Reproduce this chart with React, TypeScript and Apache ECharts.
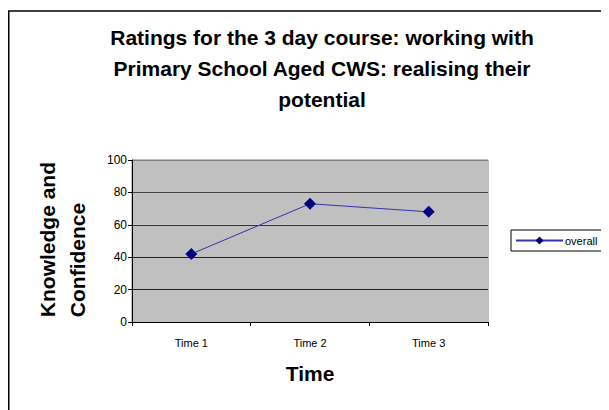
import React, { useEffect, useRef } from "react";
import * as echarts from "echarts";

const categories = ["Time 1", "Time 2", "Time 3"];
const overall = [42, 73, 68];
const seriesName = "overall";
const titleText = "Ratings for the 3 day course: working with\nPrimary School Aged CWS: realising their\npotential";
const yAxisName = "Knowledge and\nConfidence";
const xAxisName = "Time";

export default function App() {
  const ref = useRef<HTMLDivElement>(null);
  useEffect(() => {
    if (!ref.current) return;
    const chart = echarts.init(ref.current, null, { renderer: "svg" });
    const font = "'Liberation Sans', Arial, sans-serif";
    chart.setOption({
      animation: false,
      backgroundColor: "#ffffff",
      textStyle: { fontFamily: font },
      title: {
        text: titleText,
        left: 309,
        textAlign: "center",
        top: 9,
        textStyle: { fontSize: 21, fontWeight: "bold", color: "#000", lineHeight: 31, fontFamily: font },
      },
      graphic: [
        { type: "line", shape: { x1: 0.5, y1: 3, x2: 0.5, y2: 410 }, style: { stroke: "#000", lineWidth: 2 } },
        { type: "line", shape: { x1: 0, y1: 3, x2: 609, y2: 3 }, style: { stroke: "#000", lineWidth: 1.5 } },
        {
          type: "text",
          left: 24,
          top: 154,
          style: {
            text: yAxisName,
            fontSize: 21,
            fontWeight: "bold",
            fill: "#000",
            lineHeight: 30,
            align: "center",
            fontFamily: font,
          },
          rotation: Math.PI / 2,
        },
      ],
      legend: {
        left: 503,
        top: 222,
        data: [seriesName],
        itemWidth: 47,
        itemHeight: 10,
        itemGap: 5,
        padding: [5, 12, 5, 4],
        borderColor: "#000",
        borderWidth: 1,
        borderRadius: 0,
        textStyle: { fontSize: 11, color: "#000", fontFamily: font, padding: [0, 0, 0, -3] },
      },
      grid: { left: 124, right: 121, top: 152, bottom: 88, show: true, borderColor: "#808080", borderWidth: 1, backgroundColor: "transparent" },
      xAxis: {
        type: "category",
        data: categories,
        boundaryGap: true,
        name: xAxisName,
        nameLocation: "middle",
        nameGap: 41,
        nameTextStyle: { fontSize: 21, fontWeight: "bold", color: "#000", fontFamily: font },
        axisLine: { lineStyle: { color: "#000", width: 1 } },
        axisTick: { show: true, length: 4, lineStyle: { color: "#000" } },
        axisLabel: { fontSize: 11, color: "#000", margin: 15, fontFamily: font },
        splitLine: { show: false },
      },
      yAxis: {
        type: "value",
        min: 0,
        max: 100,
        interval: 20,
        axisLine: { show: true, lineStyle: { color: "#000", width: 1 } },
        axisTick: { show: true, length: 4, lineStyle: { color: "#000" } },
        axisLabel: { fontSize: 12, color: "#000", margin: 5, fontFamily: font },
        splitLine: { show: true, lineStyle: { color: ["#222", "#222", "#222", "#333", "#444", "#808080"], width: 1 } },
        splitArea: { show: true, areaStyle: { color: ["#c0c0c0", "#c0c0c0"] } },
      },
      series: [
        {
          name: seriesName,
          type: "line",
          data: overall,
          symbol: "diamond",
          symbolSize: 12,
          lineStyle: { color: "#3333aa", width: 1 },
          itemStyle: { color: "#000080" },
        },
      ],
    });
    return () => chart.dispose();
  }, []);
  return <div ref={ref} style={{ width: 601, height: 402 }} />;
}
